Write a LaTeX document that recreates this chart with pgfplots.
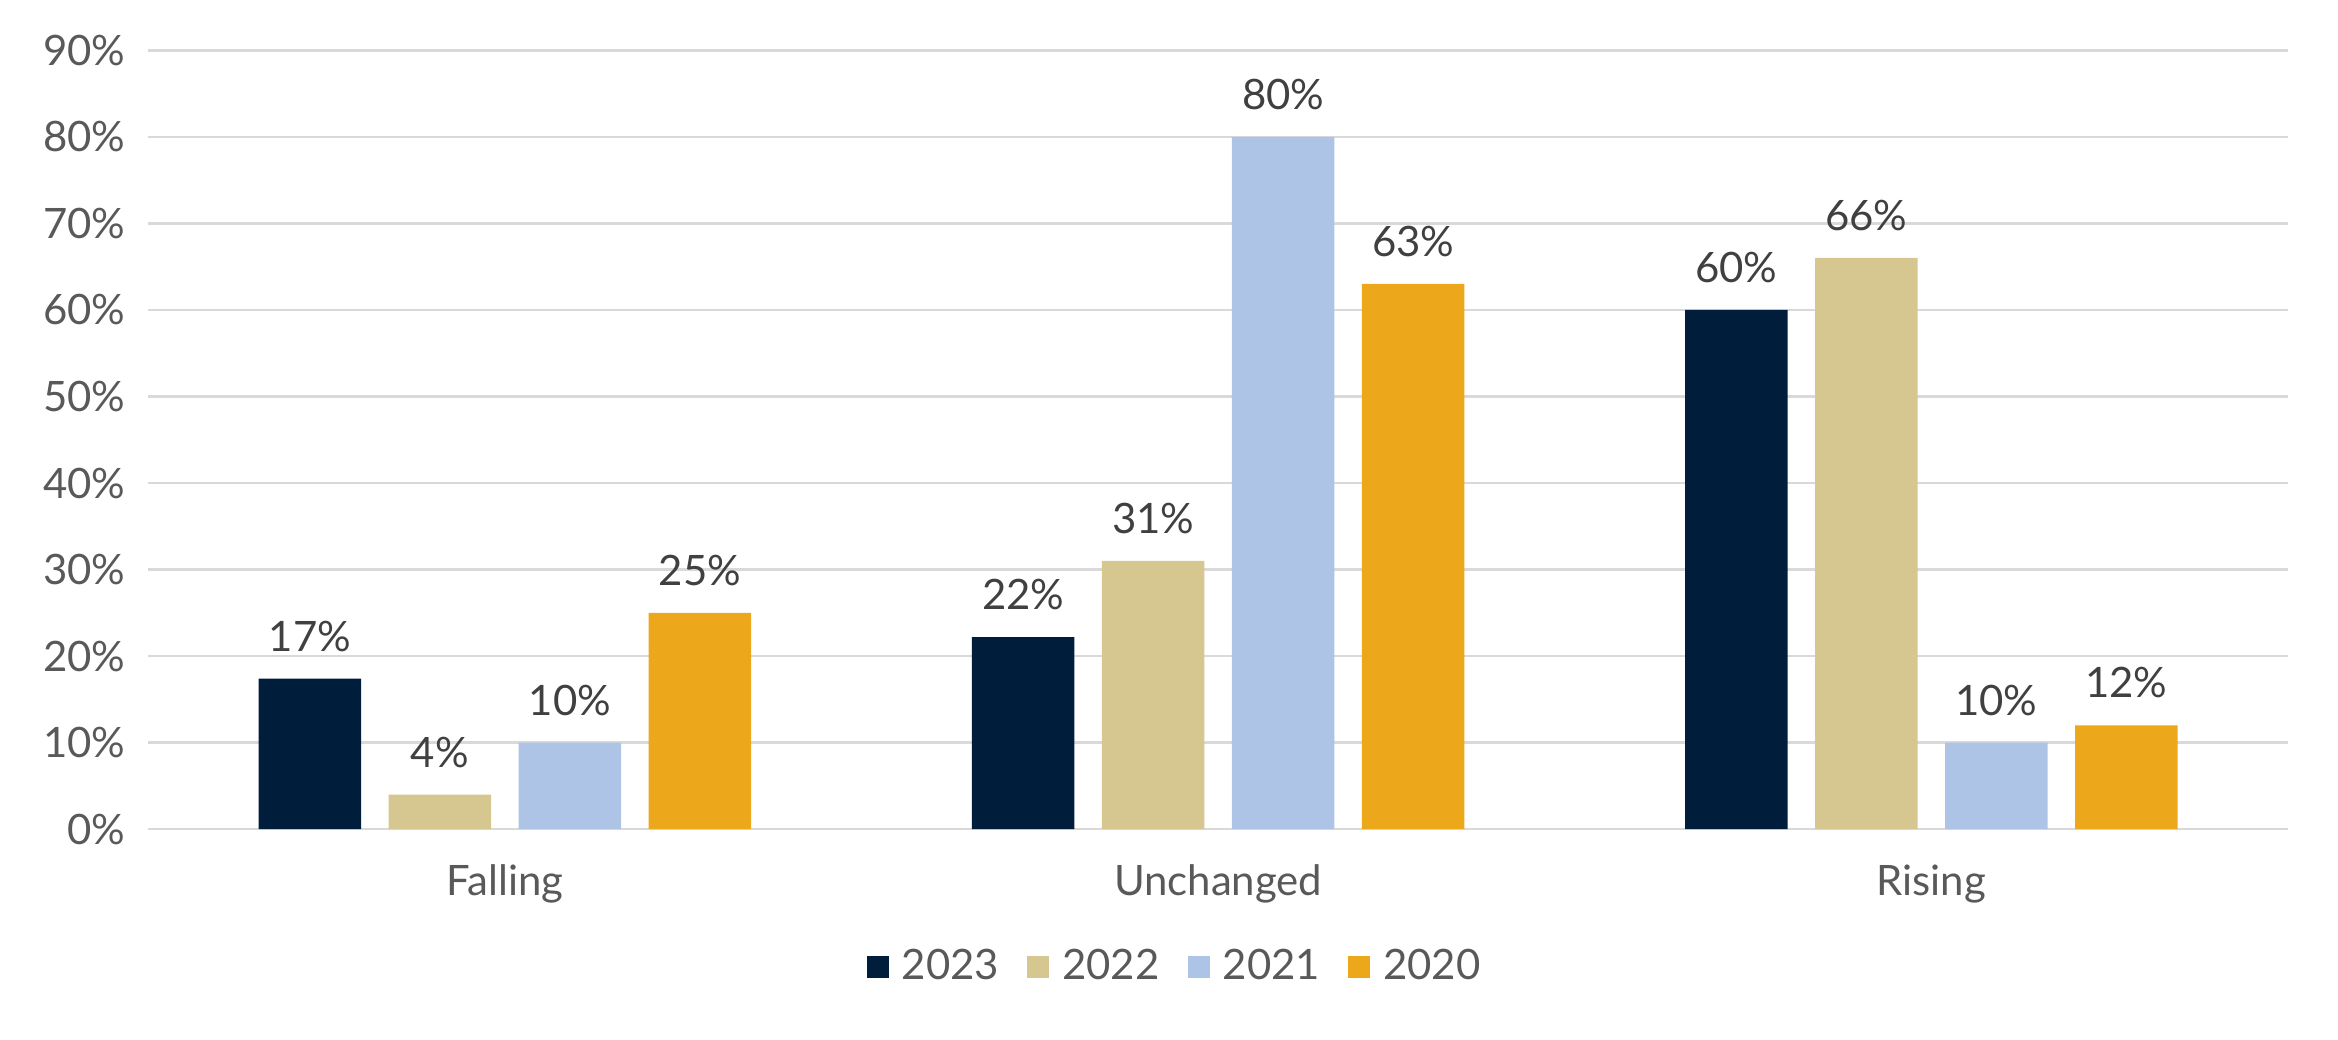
\documentclass[border=0pt]{standalone}
\usepackage{fontspec}
\setmainfont{Lato}
\usepackage{pgfplots}
\pgfplotsset{compat=1.18}

\definecolor{c2023}{HTML}{001E3C}
\definecolor{c2022}{HTML}{D5C78F}
\definecolor{c2021}{HTML}{AEC4E6}
\definecolor{c2020}{HTML}{ECA71B}
\definecolor{tickgray}{HTML}{595959}
\definecolor{labelgray}{HTML}{404040}
\definecolor{gridgray}{HTML}{D9D9D9}

\begin{document}
\fontsize{10.2}{12}\selectfont
\begin{tikzpicture}
\useasboundingbox (-36.1pt,-51.28pt) rectangle (532.97pt,201.84pt);
\begin{axis}[
    scale only axis,
    width=520.8pt, height=189.6pt,
    /pgf/number format/assume math mode=true,
    ybar=6.69pt, bar width=24.95pt,
    xmin=-0.5, xmax=2.5,
    ymin=0, ymax=90,
    xtick={0,1,2},
    xticklabels={Falling,Unchanged,Rising},
    ytick={0,10,...,90},
    yticklabels={0\%,10\%,20\%,30\%,40\%,50\%,60\%,70\%,80\%,90\%},
    axis line style={draw=none},
    major tick length=0pt,
    ymajorgrids,
    grid style={gridgray, line width=0.6pt},
    tick label style={font=\fontsize{10.2}{12}\selectfont, text=tickgray},
    xticklabel style={yshift=-5pt},
    yticklabel style={xshift=-2pt},
    nodes near coords={\pgfmathprintnumber[fixed,precision=0]{\pgfplotspointmeta}\%},
    every node near coord/.append style={font=\fontsize{10.2}{12}\selectfont, text=labelgray, yshift=3pt},
    legend style={draw=none, fill=none, at={(0.4803,-0.177)}, anchor=center,
        legend columns=-1, font=\fontsize{10.2}{12}\selectfont, text=tickgray,
        /tikz/every even column/.append style={column sep=5.6pt},
        nodes={inner sep=1.2pt}},
    legend image code/.code={\fill[#1] (0pt,-2.7pt) rectangle (5.45pt,2.75pt); \path (7.4pt,0pt);},
]
\addplot[draw=none, fill=c2023] coordinates {(0,17.4) (1,22.2) (2,60)};
\addplot[draw=none, fill=c2022] coordinates {(0,4) (1,31) (2,66)};
\addplot[draw=none, fill=c2021] coordinates {(0,10) (1,80) (2,10)};
\addplot[draw=none, fill=c2020] coordinates {(0,25) (1,63) (2,12)};
\legend{2023,2022,2021,2020}
\end{axis}
\end{tikzpicture}
\end{document}
